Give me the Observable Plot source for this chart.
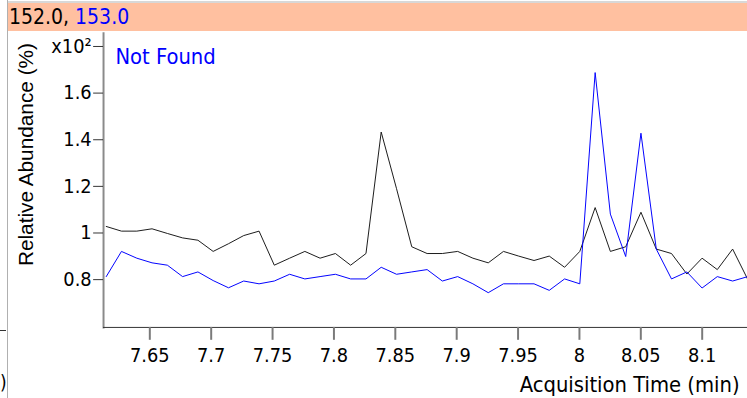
<!DOCTYPE html>
<html>
<head>
<meta charset="utf-8">
<script src="https://cdn.jsdelivr.net/npm/d3@7"></script>
<script src="https://cdn.jsdelivr.net/npm/@observablehq/plot@0.6"></script>
<style>
  html, body { margin: 0; padding: 0; overflow: hidden; background: #fff; }
  #wrap { position: relative; width: 747px; height: 398px; overflow: hidden; background: #fff; }
  #chart { position: absolute; left: 0; top: 0; }
  .tah { font-family: "DejaVu Sans Condensed", "Liberation Sans", sans-serif; }
  #vline { position: absolute; left: 7px; top: 0; width: 1px; height: 398px; background: #b0b0b0; }
  #topline { position: absolute; left: 8px; top: 1px; right: 0; height: 2px; background: #d8d8d8; }
  #header { position: absolute; left: 8px; top: 3px; right: 0; height: 28px; background: #ffc0a0;
            font-size: 21px; line-height: 29px; padding-left: 1px; color: #000; white-space: nowrap; }
  #frag { position: absolute; left: 0px; top: 370px; font-size: 19px; color: #000; line-height: 24px; }
  #fragtick { position: absolute; left: 0; top: 330px; width: 6px; height: 1px; background: #333; }
</style>
</head>
<body>
<div id="wrap">
  <div id="chart"></div>
  <div id="vline"></div>
  <div id="topline"></div>
  <div id="header" class="tah">152.0, <span style="color:#0000ff">153.0</span></div>
  <div id="fragtick"></div>
  <div id="frag" class="tah">)</div>
</div>
<script>
// Acquisition times (min)
const times = [
  7.6145, 7.6269, 7.6394, 7.6518, 7.6643, 7.6767, 7.6892, 7.7016, 7.7141, 7.7265,
  7.7390, 7.7514, 7.7639, 7.7763, 7.7887, 7.8012, 7.8136, 7.8261, 7.8385, 7.8510,
  7.8634, 7.8759, 7.8883, 7.9008, 7.9132, 7.9257, 7.9381, 7.9505, 7.9630, 7.9754,
  7.9879, 8.0003, 8.0128, 8.0252, 8.0377, 8.0501, 8.0626, 8.0750, 8.0875, 8.0999,
  8.1123, 8.1248, 8.1372
];
// Relative abundance (x10^2 %) for m/z 152.0 (black)
const series152 = [
  1.028, 1.008, 1.008, 1.018, 0.998, 0.979, 0.969, 0.921, 0.954, 0.989,
  1.008, 0.862, 0.892, 0.921, 0.892, 0.912, 0.862, 0.912, 1.433, 1.19,
  0.941, 0.912, 0.912, 0.921, 0.892, 0.872, 0.921, 0.901, 0.882, 0.901,
  0.853, 0.921, 1.109, 0.921, 0.941, 1.089, 0.931, 0.912, 0.824, 0.892,
  0.843, 0.931, 0.80
];
// Relative abundance (x10^2 %) for m/z 153.0 (blue)
const series153 = [
  0.813, 0.921, 0.892, 0.872, 0.862, 0.813, 0.833, 0.796, 0.765, 0.794,
  0.782, 0.794, 0.823, 0.803, 0.813, 0.823, 0.803, 0.803, 0.853, 0.823,
  0.833, 0.843, 0.794, 0.813, 0.782, 0.744, 0.782, 0.782, 0.782, 0.754,
  0.803, 0.782, 1.688, 1.081, 0.899, 1.428, 0.931, 0.803, 0.833, 0.764,
  0.813, 0.794, 0.813
];
const xTicks = [7.65, 7.7, 7.75, 7.8, 7.85, 7.9, 7.95, 8, 8.05, 8.1];
const yTicks = [0.8, 1, 1.2, 1.4, 1.6, 1.8];
const yTopLabel = "x10²";
const xLabel = "Acquisition Time (min)";
const yLabel = "Relative Abundance (%)";
const noteText = "Not Found";

const data152 = times.map((t, i) => ({t, v: series152[i]}));
const data153 = times.map((t, i) => ({t, v: series153[i]}));

const font = "'DejaVu Sans Condensed', 'Liberation Sans', sans-serif";

const chart = Plot.plot({
  width: 754,
  height: 398,
  marginLeft: 104,
  marginRight: 0,
  marginTop: 33,
  marginBottom: 68,
  x: {domain: [7.6123, 8.1369]},
  y: {domain: [0.595, 1.857]},
  style: {fontFamily: font, fontSize: "20px", color: "#000", background: "transparent", overflow: "visible"},
  marks: [
    Plot.frame({anchor: "left", stroke: "#8a8a8a", strokeWidth: 2}),
    Plot.frame({anchor: "bottom", stroke: "#333"}),
    Plot.axisY({
      ticks: yTicks,
      tickFormat: d => Math.abs(d - 1.8) < 1e-9 ? yTopLabel : String(+d.toFixed(1)),
      tickSize: 10, tickPadding: 2, stroke: "#333", fontSize: 20, label: null
    }),
    Plot.axisX({
      ticks: xTicks,
      tickFormat: d => String(+d.toFixed(2)),
      tickSize: 13, tickPadding: 8, stroke: "#7a7a7a", strokeWidth: 2, fontSize: 20,
      label: null
    }),
    Plot.text([xLabel], {frameAnchor: "bottom-right", textAnchor: "end", lineAnchor: "middle",
      dx: -8, dy: 58, fontSize: 22, fill: "#000"}),
    Plot.text([yLabel], {frameAnchor: "left", rotate: -90, textAnchor: "middle", lineAnchor: "middle",
      dx: -78, dy: -26, fontSize: 21, fontFamily: "'Liberation Sans', Arial, sans-serif", fill: "#000"}),
    Plot.text([noteText], {frameAnchor: "top-left", dx: 12, dy: 24, lineAnchor: "middle",
      textAnchor: "start", fontSize: 22, fill: "#0000ff"}),
    Plot.line(data152, {x: "t", y: "v", stroke: "#1a1a1a", strokeWidth: 1, clip: true}),
    Plot.line(data153, {x: "t", y: "v", stroke: "#0000ff", strokeWidth: 1, clip: true})
  ]
});
document.getElementById("chart").appendChild(chart);
</script>
</body>
</html>
